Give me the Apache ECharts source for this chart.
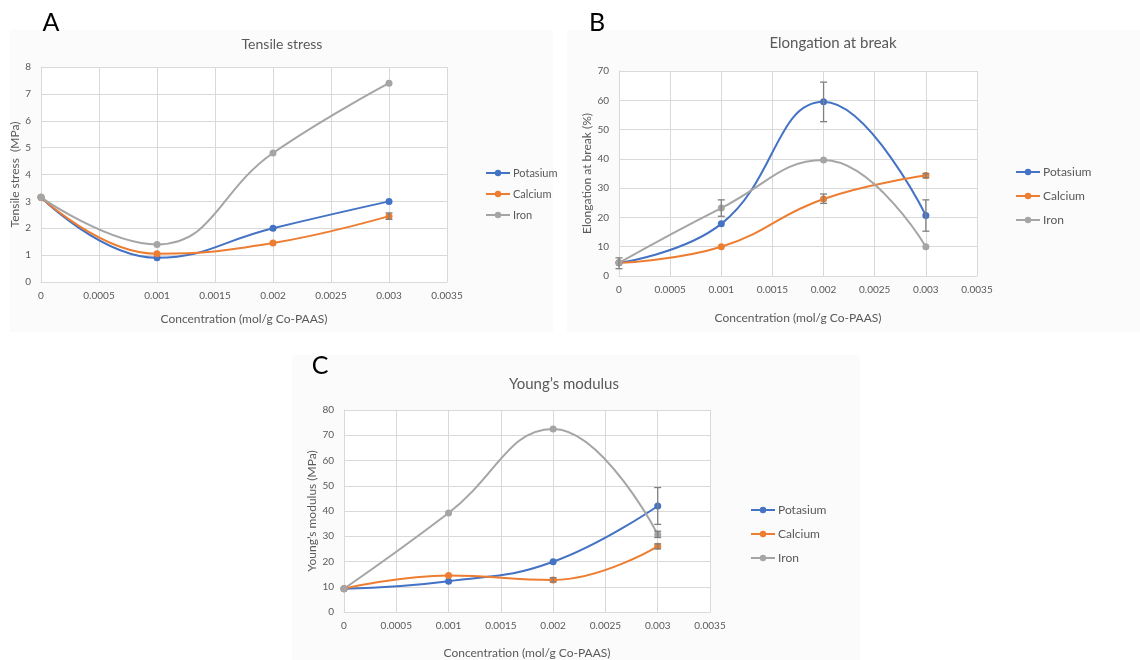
<!DOCTYPE html>
<html>
<head>
<meta charset="utf-8">
<script src="https://cdn.jsdelivr.net/npm/echarts@6/dist/echarts.min.js"></script>
<style>
html,body{margin:0;padding:0;background:#fff;}
#c{width:1140px;height:660px;}
</style>
</head>
<body>
<div id="c"></div>
<script>
// ---- data ----
const concentrations = [0, 0.001, 0.002, 0.003];
const seriesNames = ['Potasium', 'Calcium', 'Iron'];

const tensilePotasium = [3.15, 0.9, 2.0, 3.0];
const tensileCalcium  = [3.15, 1.05, 1.45, 2.45];
const tensileIron     = [3.15, 1.4, 4.8, 7.4];
const tensileErrors   = [[0.003, 2.33, 2.57]];

const elongPotasium = [4.5, 17.8, 59.5, 20.7];
const elongCalcium  = [4.5, 10.0, 26.3, 34.3];
const elongIron     = [4.5, 23.2, 39.6, 10.0];
const elongErrors   = [[0, 2.5, 6.2], [0.001, 20.4, 26.0], [0.002, 52.7, 66.2], [0.002, 24.8, 28.0], [0.003, 15.3, 26.0], [0.003, 33.5, 35.0]];

const youngPotasium = [9.2, 12.2, 19.9, 42.0];
const youngCalcium  = [9.2, 14.5, 12.7, 26.0];
const youngIron     = [9.2, 39.2, 72.5, 30.7];
const youngErrors   = [[0.003, 34.7, 49.3], [0.003, 29.5, 32.0], [0.002, 11.9, 13.6], [0.003, 25.0, 27.0]];

const xTicks = { min: 0, max: 0.0035, interval: 0.0005 };
const yTensile = { min: 0, max: 8, interval: 1 };
const yElong = { min: 0, max: 70, interval: 10 };
const yYoung = { min: 0, max: 80, interval: 10 };

// ---- styling ----
const colors = ['#4472C4', '#ED7D31', '#A5A5A5'];
const FONT = 'Lato, "Open Sans", sans-serif';
const TXT = '#595959';
const GRIDC = '#d9d9d9';

function pairs(vals) { return concentrations.map((x, i) => [x, vals[i]]); }

function xAxis(gi, gap) {
  return {
    type: 'value', gridIndex: gi, min: xTicks.min, max: xTicks.max, interval: xTicks.interval,
    name: 'Concentration (mol/g Co-PAAS)', nameLocation: 'middle', nameGap: gap,
    nameTextStyle: { color: TXT, fontSize: 12, fontFamily: FONT },
    axisLine: { show: true, lineStyle: { color: GRIDC } }, axisTick: { show: false },
    axisLabel: { color: TXT, fontSize: 10, fontFamily: FONT, margin: 9,
      formatter: v => String(+v.toFixed(4)) },
    splitLine: { show: true, lineStyle: { color: GRIDC } }
  };
}
function yAxis(gi, cfg, name, gap) {
  return {
    type: 'value', gridIndex: gi, min: cfg.min, max: cfg.max, interval: cfg.interval,
    name: name, nameLocation: 'middle', nameGap: gap,
    nameTextStyle: { color: TXT, fontSize: 12, fontFamily: FONT },
    axisLine: { show: true, lineStyle: { color: GRIDC } }, axisTick: { show: false },
    axisLabel: { color: TXT, fontSize: 10, fontFamily: FONT, margin: 10 },
    splitLine: { show: true, lineStyle: { color: GRIDC } }
  };
}
function line(name, idx, gi, vals) {
  return {
    type: 'line', name: name, xAxisIndex: gi, yAxisIndex: gi, data: pairs(vals),
    smooth: 0.45, symbol: 'circle', symbolSize: 7,
    lineStyle: { width: 2, color: colors[idx] }, itemStyle: { color: colors[idx] },
    z: 3, animation: false
  };
}
function errBars(gi, errs) {
  return {
    type: 'custom', xAxisIndex: gi, yAxisIndex: gi, data: errs, z: 4, animation: false,
    silent: true,
    renderItem: function (params, api) {
      const x = api.value(0), lo = api.value(1), hi = api.value(2);
      const p1 = api.coord([x, lo]), p2 = api.coord([x, hi]);
      const w = 3.5;
      const st = { stroke: '#808080', lineWidth: 1.3 };
      return { type: 'group', children: [
        { type: 'line', shape: { x1: p1[0], y1: p1[1], x2: p2[0], y2: p2[1] }, style: st },
        { type: 'line', shape: { x1: p1[0] - w, y1: p1[1], x2: p1[0] + w, y2: p1[1] }, style: st },
        { type: 'line', shape: { x1: p2[0] - w, y1: p2[1], x2: p2[0] + w, y2: p2[1] }, style: st }
      ]};
    }
  };
}
function legend(left, top, gap, lh, fs) {
  return {
    orient: 'vertical', left: left, top: top, itemGap: gap, itemWidth: 24, itemHeight: 8,
    data: seriesNames, selectedMode: false,
    textStyle: { color: TXT, fontSize: fs, fontFamily: FONT, lineHeight: lh, padding: [0, 0, 0, -2] }
  };
}
function title(text, x, y, size, color) {
  return { text: text, left: x, top: y, textAlign: 'center',
    textStyle: { color: color, fontSize: size, fontWeight: 'normal', fontFamily: FONT } };
}

const chart = echarts.init(document.getElementById('c'), null, { renderer: 'canvas' });
chart.setOption({
  animation: false,
  backgroundColor: '#ffffff',
  color: colors,
  graphic: [
    { type: 'rect', shape: { x: 10, y: 30, width: 543, height: 302 }, style: { fill: '#fbfbfb' }, z: -10 },
    { type: 'rect', shape: { x: 567, y: 30, width: 573, height: 302 }, style: { fill: '#fbfbfb' }, z: -10 },
    { type: 'rect', shape: { x: 292, y: 355, width: 568, height: 305 }, style: { fill: '#fbfbfb' }, z: -10 }
  ],
  title: [
    title('A', 46, 5, 25, '#000'),
    title('B', 592, 5, 25, '#000'),
    title('C', 315, 348, 25, '#000'),
    title('Tensile stress', 277, 32, 14, TXT),
    title('Elongation at break', 828, 31, 15, TXT),
    title('Young\u2019s modulus', 559, 372, 15, TXT)
  ],
  legend: [
    legend(480, 161, 7, 14, 11),
    legend(1010, 160, 10, 14, 12),
    legend(745, 498, 10, 14, 12)
  ],
  grid: [
    { left: 41, top: 67, width: 406, height: 215, backgroundColor: '#fff', show: true, borderWidth: 0 },
    { left: 619, top: 71, width: 358, height: 205, backgroundColor: '#fff', show: true, borderWidth: 0 },
    { left: 344, top: 410, width: 366, height: 203, backgroundColor: '#fff', show: true, borderWidth: 0 }
  ],
  xAxis: [xAxis(0, 31), xAxis(1, 36), xAxis(2, 35)],
  yAxis: [
    yAxis(0, yTensile, 'Tensile stress  (MPa)', 19),
    yAxis(1, yElong, 'Elongation at break (%)', 26),
    yAxis(2, yYoung, 'Young\u2019s modulus (MPa)', 26)
  ],
  series: [
    line('Potasium', 0, 0, tensilePotasium),
    line('Calcium', 1, 0, tensileCalcium),
    line('Iron', 2, 0, tensileIron),
    errBars(0, tensileErrors),
    line('Potasium', 0, 1, elongPotasium),
    line('Calcium', 1, 1, elongCalcium),
    line('Iron', 2, 1, elongIron),
    errBars(1, elongErrors),
    line('Potasium', 0, 2, youngPotasium),
    line('Calcium', 1, 2, youngCalcium),
    line('Iron', 2, 2, youngIron),
    errBars(2, youngErrors)
  ]
});
</script>
</body>
</html>
